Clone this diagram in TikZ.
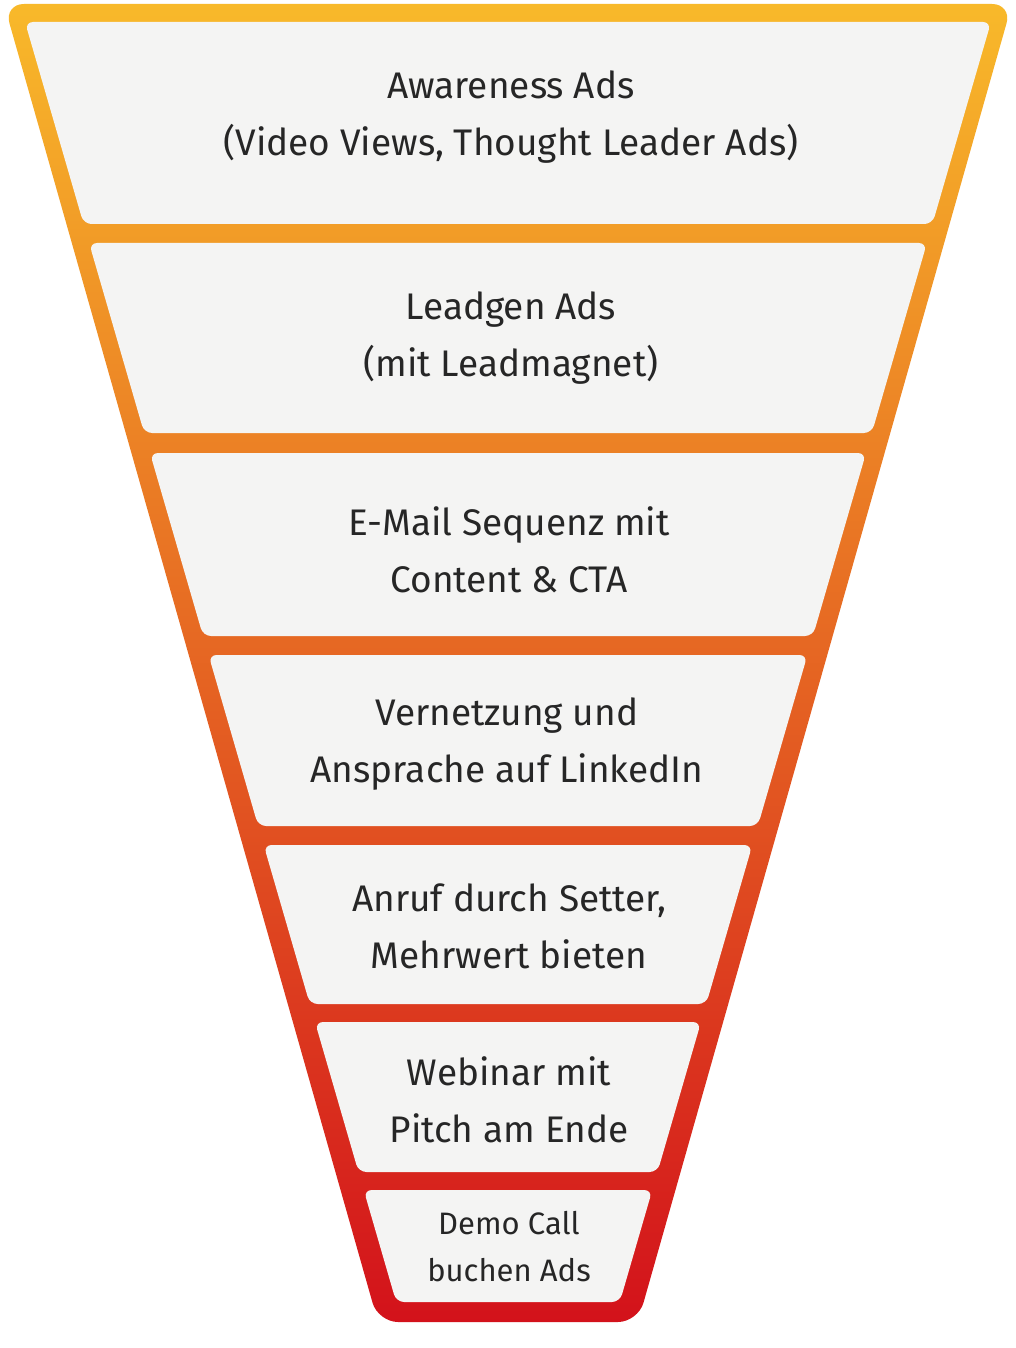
\documentclass[tikz,border=0pt]{standalone}
\usepackage{fontspec}
\setmainfont{Fira Sans}
\definecolor{funnelTop}{HTML}{F8B92A}
\definecolor{funnelMid}{HTML}{FC8A1C}
\definecolor{funnelBot}{HTML}{D3121B}
\definecolor{stageFill}{HTML}{F4F4F3}
\tikzset{every picture/.style={line width=0.75pt}}
\tikzset{
  stage/.style={fill=stageFill, rounded corners=4},
  caption/.style={align=center, font=\fontsize{18.5}{28.5}\selectfont, text=black!85},
  small caption/.style={caption, font=\fontsize{15.5}{23.5}\selectfont}
}
\begin{document}
\begin{tikzpicture}[x=0.5pt,y=-0.5pt]
    \useasboundingbox (0,0) rectangle (1016,1348);
    % funnel frame
    \shade [top color=funnelTop, middle color=funnelMid, bottom color=funnelBot, rounded corners=10]
      (4,4) -- (1012,4) -- (638,1322) -- (378,1322) -- cycle;
    % stages
    \foreach \t/\b in {22/224, 243/433, 453/636, 655/826, 845/1004, 1022/1172, 1190/1302} {
      \pgfmathsetmacro\lt{25+0.29*(\t-22)}
      \pgfmathsetmacro\rt{991-0.29*(\t-22)}
      \pgfmathsetmacro\lb{25+0.29*(\b-22)}
      \pgfmathsetmacro\rb{991-0.29*(\b-22)}
      \fill [stage] (\lt,\t) -- (\rt,\t) -- (\rb,\b) -- (\lb,\b) -- cycle;
    }
    % Text Node
    \node [caption] (awareness) at (511,117) {Awareness Ads\\(Video Views, Thought Leader Ads)};
    \node [caption] (leadgen) at (511,338) {Leadgen Ads\\(mit Leadmagnet)};
    \node [caption] (email) at (509,550) {E-Mail Sequenz mit\\Content \& CTA};
    \node [caption] (linkedin) at (507,744) {Vernetzung und\\Ansprache auf LinkedIn};
    \node [caption] (setter) at (509,926) {Anruf durch Setter,\\Mehrwert bieten};
    \node [caption] (webinar) at (509,1100) {Webinar mit\\Pitch am Ende};
    \node [small caption] (demo) at (509,1247) {Demo Call\\buchen Ads};
\end{tikzpicture}
\end{document}
